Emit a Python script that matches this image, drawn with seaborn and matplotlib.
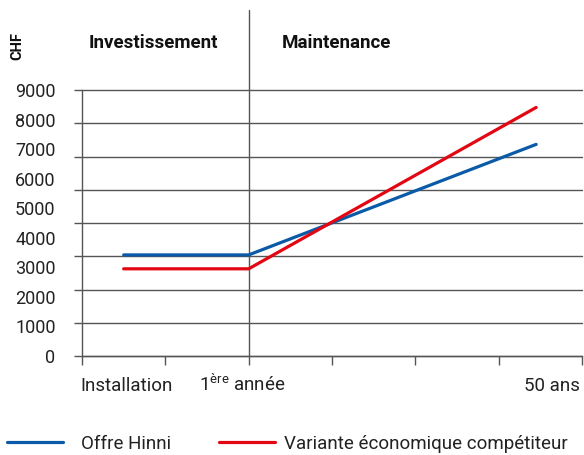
import matplotlib
matplotlib.use("Agg")
import matplotlib.pyplot as plt
from matplotlib.ticker import MultipleLocator, FixedLocator, NullFormatter
import seaborn as sns
import pandas as pd

# ---- data ----
periods = [0.5, 2.0, 5.45]            # Installation, 1ère année, 50 ans (x positions on the time axis)
offre_hinni = [3420, 3420, 7160]
variante = [2950, 2950, 8410]
series_names = ["Offre Hinni", "Variante économique compétiteur"]
y_ticks = [0, 1000, 2000, 3000, 4000, 5000, 6000, 7000, 8000, 9000]
x_labels = ["Installation", "1$^{\\mathrm{ère}}$ année", "50 ans"]
headings = ["Investissement", "Maintenance"]

df = pd.DataFrame({
    "x": periods * 2,
    "value": offre_hinni + variante,
    "series": [series_names[0]] * 3 + [series_names[1]] * 3,
})

sns.set_theme(style="white")
plt.rcParams["font.family"] = ["Roboto", "DejaVu Sans"]
plt.rcParams["mathtext.fontset"] = "custom"
plt.rcParams["mathtext.rm"] = "Roboto"

W, H = 584, 455
fig = plt.figure(figsize=(W / 100, H / 100), dpi=100)
ax = fig.add_axes([82 / W, 1 - 356 / H, 500 / W, 266 / H])

palette = {series_names[0]: "#0a5aa8", series_names[1]: "#e30613"}
sns.lineplot(data=df, x="x", y="value", hue="series", palette=palette,
             sort=False, linewidth=2.3, ax=ax, legend=True)

ax.set_xlim(0, 6)
ax.set_ylim(0, 9000)
ax.set_xlabel("")
ax.set_ylabel("")

grid_c = "#555555"
txt_c = "#222222"
for s in ["top", "right"]:
    ax.spines[s].set_visible(False)
for s in ["left", "bottom"]:
    ax.spines[s].set_color(grid_c)
    ax.spines[s].set_linewidth(1)

# y: labels at every 1000, grid lines at 8 equal steps
ax.yaxis.remove_overlapping_locs = False
ax.yaxis.set_major_locator(FixedLocator(y_ticks))
ax.yaxis.set_minor_locator(MultipleLocator(1125))
ax.yaxis.set_minor_formatter(NullFormatter())
ax.tick_params(axis="y", which="major", length=0, pad=19, labelsize=13, labelcolor=txt_c)
ax.tick_params(axis="y", which="minor", length=6, width=1, color=grid_c, left=True)
ax.grid(axis="y", which="minor", color=grid_c, linewidth=1, clip_on=False)
ax.grid(axis="y", which="major", visible=False)
ax.grid(axis="x", visible=False)

# x: tick marks only
ax.xaxis.set_major_locator(MultipleLocator(1))
ax.xaxis.set_major_formatter(NullFormatter())
ax.tick_params(axis="x", which="major", length=6.5, width=1, color=grid_c, bottom=True)

# separator line
ax.axvline(2, ymin=0, ymax=(356 - 10) / 266, color=grid_c, linewidth=1, clip_on=False, zorder=1)

# x labels
xt = ax.get_xaxis_transform()
yb = -(391 - 356) / 266
ax.text(0.536, yb, x_labels[0], transform=xt, ha="center", va="baseline", fontsize=13.5, color=txt_c)
ax.text(1.92, yb, x_labels[1], transform=xt, ha="center", va="baseline", fontsize=13.5, color=txt_c)
ax.text(5.976, yb, x_labels[2], transform=xt, ha="right", va="baseline", fontsize=13.5, color=txt_c)

# headings
yh = (356 - 48) / 266
ax.text(0.08, yh, headings[0], transform=xt, ha="left", va="baseline",
        fontsize=13.5, fontweight="bold", color="#111111")
ax.text(2.4, yh, headings[1], transform=xt, ha="left", va="baseline",
        fontsize=13.5, fontweight="bold", color="#111111")
fig.text(17 / W, 1 - 46 / H, "CHF", rotation=90, ha="center", va="center",
         fontsize=10.5, fontweight="bold", color="#111111")

# legend (two single-entry legends to match spacing)
handles, labels = ax.get_legend_handles_labels()
ax.get_legend().remove()
fig.legend(handles[:1], labels[:1], loc="center left", bbox_to_anchor=(7 / W, 1 - 444 / H),
           frameon=False, borderaxespad=0, borderpad=0,
           handlelength=3.0, handletextpad=0.95, fontsize=13.5, labelcolor=txt_c)
fig.legend(handles[1:], labels[1:], loc="center left", bbox_to_anchor=(219 / W, 1 - 444 / H),
           frameon=False, borderaxespad=0, borderpad=0,
           handlelength=3.0, handletextpad=0.45, fontsize=13.5, labelcolor=txt_c)

fig.savefig("out.png", dpi=100)
